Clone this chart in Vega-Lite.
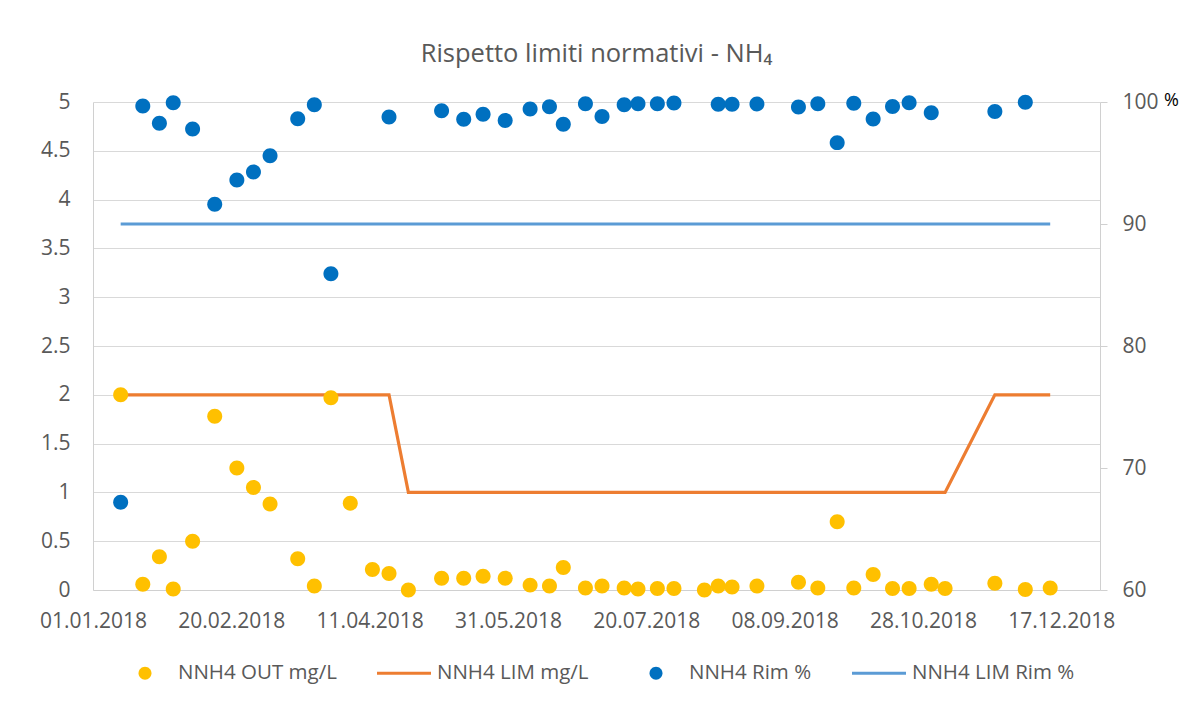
{
  "$schema": "https://vega.github.io/schema/vega-lite/v6.json",
  "width": 1007,
  "height": 488,
  "autosize": {"type": "none"},
  "padding": {"left": 93, "top": 102, "right": 79, "bottom": 116},
  "background": "white",
  "config": {
    "view": {"stroke": null},
    "font": "Open Sans",
    "axis": {"labelFont": "Open Sans", "labelColor": "#595959", "labelFontSize": 21, "domainColor": "#d0d0d0", "tickColor": "#d0d0d0", "gridColor": "#d9d9d9"},
    "legend": {"labelFont": "Open Sans", "labelColor": "#595959", "labelFontSize": 20.5, "labelLimit": 400}
  },
  "title": {
    "text": "Rispetto limiti normativi - NH₄",
    "fontSize": 25.5,
    "fontWeight": "normal",
    "color": "#595959",
    "anchor": "middle",
    "frame": "group",
    "offset": 24
  },
  "data": {
    "values": [
      {"date": "2018-01-11", "NNH4 OUT mg/L": 2.0, "NNH4 LIM mg/L": 2, "NNH4 Rim %": 67.2, "NNH4 LIM Rim %": 90},
      {"date": "2018-01-19", "NNH4 OUT mg/L": 0.06, "NNH4 LIM mg/L": 2, "NNH4 Rim %": 99.67, "NNH4 LIM Rim %": 90},
      {"date": "2018-01-25", "NNH4 OUT mg/L": 0.34, "NNH4 LIM mg/L": 2, "NNH4 Rim %": 98.25, "NNH4 LIM Rim %": 90},
      {"date": "2018-01-30", "NNH4 OUT mg/L": 0.01, "NNH4 LIM mg/L": 2, "NNH4 Rim %": 99.94, "NNH4 LIM Rim %": 90},
      {"date": "2018-02-06", "NNH4 OUT mg/L": 0.5, "NNH4 LIM mg/L": 2, "NNH4 Rim %": 97.79, "NNH4 LIM Rim %": 90},
      {"date": "2018-02-14", "NNH4 OUT mg/L": 1.78, "NNH4 LIM mg/L": 2, "NNH4 Rim %": 91.61, "NNH4 LIM Rim %": 90},
      {"date": "2018-02-22", "NNH4 OUT mg/L": 1.25, "NNH4 LIM mg/L": 2, "NNH4 Rim %": 93.61, "NNH4 LIM Rim %": 90},
      {"date": "2018-02-28", "NNH4 OUT mg/L": 1.05, "NNH4 LIM mg/L": 2, "NNH4 Rim %": 94.26, "NNH4 LIM Rim %": 90},
      {"date": "2018-03-06", "NNH4 OUT mg/L": 0.88, "NNH4 LIM mg/L": 2, "NNH4 Rim %": 95.6, "NNH4 LIM Rim %": 90},
      {"date": "2018-03-16", "NNH4 OUT mg/L": 0.32, "NNH4 LIM mg/L": 2, "NNH4 Rim %": 98.63, "NNH4 LIM Rim %": 90},
      {"date": "2018-03-22", "NNH4 OUT mg/L": 0.04, "NNH4 LIM mg/L": 2, "NNH4 Rim %": 99.78, "NNH4 LIM Rim %": 90},
      {"date": "2018-03-28", "NNH4 OUT mg/L": 1.97, "NNH4 LIM mg/L": 2, "NNH4 Rim %": 85.93, "NNH4 LIM Rim %": 90},
      {"date": "2018-04-04", "NNH4 OUT mg/L": 0.89, "NNH4 LIM mg/L": 2, "NNH4 Rim %": null, "NNH4 LIM Rim %": 90},
      {"date": "2018-04-12", "NNH4 OUT mg/L": 0.21, "NNH4 LIM mg/L": 2, "NNH4 Rim %": null, "NNH4 LIM Rim %": 90},
      {"date": "2018-04-18", "NNH4 OUT mg/L": 0.17, "NNH4 LIM mg/L": 2, "NNH4 Rim %": 98.77, "NNH4 LIM Rim %": 90},
      {"date": "2018-04-25", "NNH4 OUT mg/L": 0.0, "NNH4 LIM mg/L": 1, "NNH4 Rim %": null, "NNH4 LIM Rim %": 90},
      {"date": "2018-05-07", "NNH4 OUT mg/L": 0.12, "NNH4 LIM mg/L": 1, "NNH4 Rim %": 99.29, "NNH4 LIM Rim %": 90},
      {"date": "2018-05-15", "NNH4 OUT mg/L": 0.12, "NNH4 LIM mg/L": 1, "NNH4 Rim %": 98.58, "NNH4 LIM Rim %": 90},
      {"date": "2018-05-22", "NNH4 OUT mg/L": 0.14, "NNH4 LIM mg/L": 1, "NNH4 Rim %": 98.99, "NNH4 LIM Rim %": 90},
      {"date": "2018-05-30", "NNH4 OUT mg/L": 0.12, "NNH4 LIM mg/L": 1, "NNH4 Rim %": 98.49, "NNH4 LIM Rim %": 90},
      {"date": "2018-06-08", "NNH4 OUT mg/L": 0.05, "NNH4 LIM mg/L": 1, "NNH4 Rim %": 99.43, "NNH4 LIM Rim %": 90},
      {"date": "2018-06-15", "NNH4 OUT mg/L": 0.04, "NNH4 LIM mg/L": 1, "NNH4 Rim %": 99.62, "NNH4 LIM Rim %": 90},
      {"date": "2018-06-20", "NNH4 OUT mg/L": 0.23, "NNH4 LIM mg/L": 1, "NNH4 Rim %": 98.17, "NNH4 LIM Rim %": 90},
      {"date": "2018-06-28", "NNH4 OUT mg/L": 0.02, "NNH4 LIM mg/L": 1, "NNH4 Rim %": 99.86, "NNH4 LIM Rim %": 90},
      {"date": "2018-07-04", "NNH4 OUT mg/L": 0.04, "NNH4 LIM mg/L": 1, "NNH4 Rim %": 98.82, "NNH4 LIM Rim %": 90},
      {"date": "2018-07-12", "NNH4 OUT mg/L": 0.02, "NNH4 LIM mg/L": 1, "NNH4 Rim %": 99.78, "NNH4 LIM Rim %": 90},
      {"date": "2018-07-17", "NNH4 OUT mg/L": 0.01, "NNH4 LIM mg/L": 1, "NNH4 Rim %": 99.86, "NNH4 LIM Rim %": 90},
      {"date": "2018-07-24", "NNH4 OUT mg/L": 0.015, "NNH4 LIM mg/L": 1, "NNH4 Rim %": 99.86, "NNH4 LIM Rim %": 90},
      {"date": "2018-07-30", "NNH4 OUT mg/L": 0.015, "NNH4 LIM mg/L": 1, "NNH4 Rim %": 99.92, "NNH4 LIM Rim %": 90},
      {"date": "2018-08-10", "NNH4 OUT mg/L": 0.0, "NNH4 LIM mg/L": 1, "NNH4 Rim %": null, "NNH4 LIM Rim %": 90},
      {"date": "2018-08-15", "NNH4 OUT mg/L": 0.04, "NNH4 LIM mg/L": 1, "NNH4 Rim %": 99.81, "NNH4 LIM Rim %": 90},
      {"date": "2018-08-20", "NNH4 OUT mg/L": 0.03, "NNH4 LIM mg/L": 1, "NNH4 Rim %": 99.81, "NNH4 LIM Rim %": 90},
      {"date": "2018-08-29", "NNH4 OUT mg/L": 0.04, "NNH4 LIM mg/L": 1, "NNH4 Rim %": 99.84, "NNH4 LIM Rim %": 90},
      {"date": "2018-09-13", "NNH4 OUT mg/L": 0.08, "NNH4 LIM mg/L": 1, "NNH4 Rim %": 99.59, "NNH4 LIM Rim %": 90},
      {"date": "2018-09-20", "NNH4 OUT mg/L": 0.02, "NNH4 LIM mg/L": 1, "NNH4 Rim %": 99.86, "NNH4 LIM Rim %": 90},
      {"date": "2018-09-27", "NNH4 OUT mg/L": 0.7, "NNH4 LIM mg/L": 1, "NNH4 Rim %": 96.67, "NNH4 LIM Rim %": 90},
      {"date": "2018-10-03", "NNH4 OUT mg/L": 0.02, "NNH4 LIM mg/L": 1, "NNH4 Rim %": 99.89, "NNH4 LIM Rim %": 90},
      {"date": "2018-10-10", "NNH4 OUT mg/L": 0.16, "NNH4 LIM mg/L": 1, "NNH4 Rim %": 98.6, "NNH4 LIM Rim %": 90},
      {"date": "2018-10-17", "NNH4 OUT mg/L": 0.015, "NNH4 LIM mg/L": 1, "NNH4 Rim %": 99.64, "NNH4 LIM Rim %": 90},
      {"date": "2018-10-23", "NNH4 OUT mg/L": 0.015, "NNH4 LIM mg/L": 1, "NNH4 Rim %": 99.94, "NNH4 LIM Rim %": 90},
      {"date": "2018-10-31", "NNH4 OUT mg/L": 0.06, "NNH4 LIM mg/L": 1, "NNH4 Rim %": 99.12, "NNH4 LIM Rim %": 90},
      {"date": "2018-11-05", "NNH4 OUT mg/L": 0.015, "NNH4 LIM mg/L": 1, "NNH4 Rim %": null, "NNH4 LIM Rim %": 90},
      {"date": "2018-11-23", "NNH4 OUT mg/L": 0.07, "NNH4 LIM mg/L": 2, "NNH4 Rim %": 99.23, "NNH4 LIM Rim %": 90},
      {"date": "2018-12-04", "NNH4 OUT mg/L": 0.005, "NNH4 LIM mg/L": 2, "NNH4 Rim %": 99.97, "NNH4 LIM Rim %": 90},
      {"date": "2018-12-13", "NNH4 OUT mg/L": 0.02, "NNH4 LIM mg/L": 2, "NNH4 Rim %": null, "NNH4 LIM Rim %": 90}
    ]
  },
  "encoding": {
    "x": {
      "field": "date",
      "type": "temporal",
      "scale": {"type": "utc", "domain": [{"year": 2018, "month": 1, "date": 1, "utc": true}, {"year": 2018, "month": 12, "date": 31, "utc": true}]},
      "axis": {
        "title": null,
        "grid": false,
        "ticks": false,
        "tickSize": 0,
        "labelPadding": 20,
        "labelExpr": "utcFormat(datum.value, '%d.%m.%Y')",
        "labelOverlap": false,
        "labelFlush": false,
        "values": [
          {"year": 2018, "month": 1, "date": 1, "utc": true},
          {"year": 2018, "month": 2, "date": 20, "utc": true},
          {"year": 2018, "month": 4, "date": 11, "utc": true},
          {"year": 2018, "month": 5, "date": 31, "utc": true},
          {"year": 2018, "month": 7, "date": 20, "utc": true},
          {"year": 2018, "month": 9, "date": 8, "utc": true},
          {"year": 2018, "month": 10, "date": 28, "utc": true},
          {"year": 2018, "month": 12, "date": 17, "utc": true}
        ]
      }
    }
  },
  "layer": [
    {
      "encoding": {
        "y": {
          "type": "quantitative",
          "scale": {"domain": [0, 5], "nice": false, "zero": false},
          "axis": {"title": null, "orient": "left", "values": [0, 0.5, 1, 1.5, 2, 2.5, 3, 3.5, 4, 4.5, 5], "format": "~g", "grid": true, "ticks": false, "tickSize": 0, "labelPadding": 23}
        }
      },
      "layer": [
        {
          "mark": {"type": "line", "color": "#ED7D31", "strokeWidth": 3.2},
          "encoding": {"y": {"field": "NNH4 LIM mg/L", "type": "quantitative"}}
        },
        {
          "transform": [{"fold": ["NNH4 OUT mg/L"], "as": ["series", "value"]}],
          "mark": {"type": "point", "filled": true, "opacity": 1, "size": 3900},
          "encoding": {
            "y": {"field": "value", "type": "quantitative"},
            "color": {"field": "series", "type": "nominal", "scale": {"domain": ["NNH4 OUT mg/L", "NNH4 LIM mg/L", "NNH4 Rim %", "NNH4 LIM Rim %"], "range": ["#FFC000", "#ED7D31", "#0070C0", "#5B9BD5"]},
              "legend": {"title": null, "orient": "none", "direction": "horizontal", "legendX": 25, "legendY": 544, "symbolSize": 2916, "symbolStrokeWidth": 0, "columnPadding": 40, "labelOffset": 6, "padding": 0}},
            "shape": {"field": "series", "type": "nominal", "scale": {"domain": ["NNH4 OUT mg/L", "NNH4 LIM mg/L", "NNH4 Rim %", "NNH4 LIM Rim %"], "range": ["M-0.24,0A0.24,0.24,0,1,0,0.24,0A0.24,0.24,0,1,0,-0.24,0Z", "M-1,-0.056H1V0.056H-1Z", "M-0.24,0A0.24,0.24,0,1,0,0.24,0A0.24,0.24,0,1,0,-0.24,0Z", "M-1,-0.056H1V0.056H-1Z"]},
              "legend": {"title": null, "orient": "none", "direction": "horizontal", "legendX": 25, "legendY": 544, "symbolSize": 2916, "symbolStrokeWidth": 0, "columnPadding": 40, "labelOffset": 6, "padding": 0}}
          }
        }
      ]
    },
    {
      "encoding": {
        "y": {
          "type": "quantitative",
          "scale": {"domain": [60, 100], "nice": false, "zero": false},
          "axis": {"title": "%", "orient": "right", "values": [60, 70, 80, 90, 100], "grid": false, "ticks": true, "tickSize": 7, "labelPadding": 15, "titleAngle": 0, "titleX": 71, "titleY": 3, "titleAlign": "center", "titleBaseline": "alphabetic", "titleColor": "black", "titleFontSize": 18, "titleFontWeight": "normal", "titleFont": "Open Sans"}
        }
      },
      "layer": [
        {
          "mark": {"type": "line", "color": "#5B9BD5", "strokeWidth": 3.2},
          "encoding": {"y": {"field": "NNH4 LIM Rim %", "type": "quantitative"}}
        },
        {
          "transform": [{"fold": ["NNH4 Rim %"], "as": ["series", "value"]}, {"filter": "isValid(datum.value)"}],
          "mark": {"type": "point", "filled": true, "opacity": 1, "size": 3900},
          "encoding": {
            "y": {"field": "value", "type": "quantitative"},
            "color": {"field": "series", "type": "nominal", "scale": {"domain": ["NNH4 OUT mg/L", "NNH4 LIM mg/L", "NNH4 Rim %", "NNH4 LIM Rim %"], "range": ["#FFC000", "#ED7D31", "#0070C0", "#5B9BD5"]}},
            "shape": {"field": "series", "type": "nominal", "scale": {"domain": ["NNH4 OUT mg/L", "NNH4 LIM mg/L", "NNH4 Rim %", "NNH4 LIM Rim %"], "range": ["M-0.24,0A0.24,0.24,0,1,0,0.24,0A0.24,0.24,0,1,0,-0.24,0Z", "M-1,-0.056H1V0.056H-1Z", "M-0.24,0A0.24,0.24,0,1,0,0.24,0A0.24,0.24,0,1,0,-0.24,0Z", "M-1,-0.056H1V0.056H-1Z"]}}
          }
        }
      ]
    }
  ],
  "resolve": {"scale": {"y": "independent"}}
}
